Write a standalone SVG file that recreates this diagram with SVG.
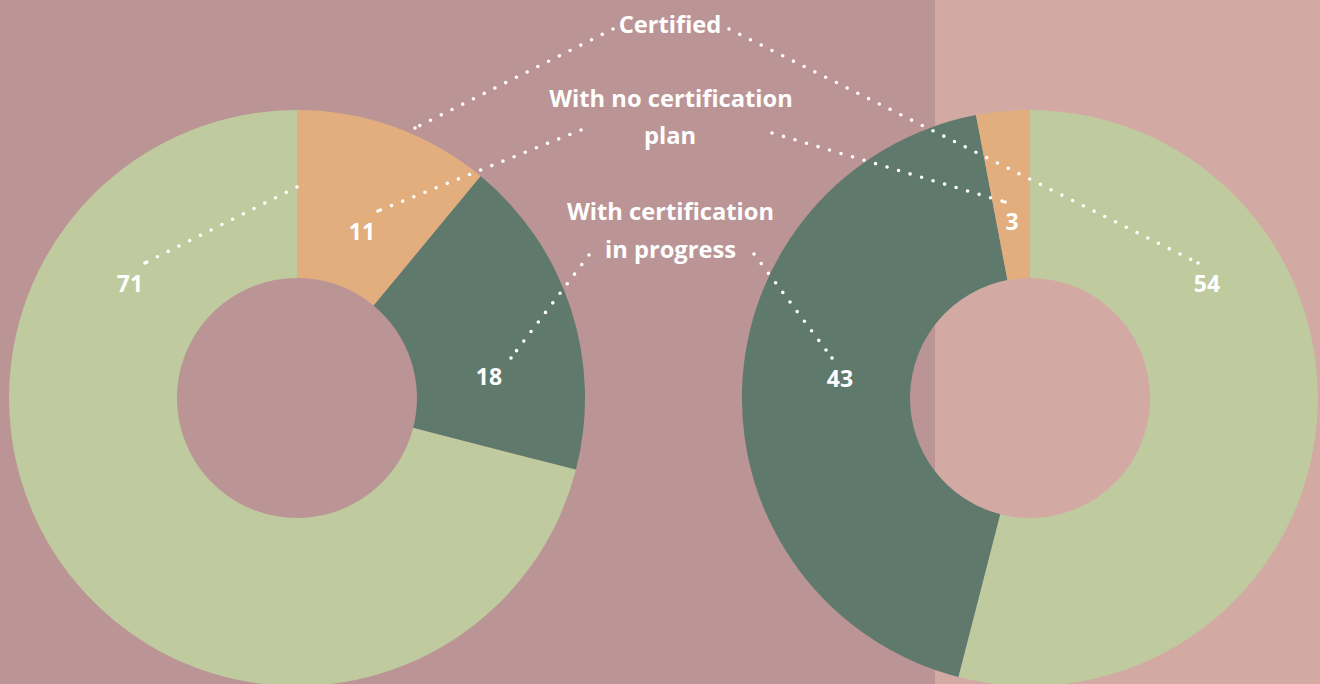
<svg xmlns="http://www.w3.org/2000/svg" width="1320" height="684" viewBox="0 0 1320 684">
<defs>
<style>
.bgL{fill:#BB9495}.bgR{fill:#D3AAA3}
.org{fill:#E2AE7D}.dg{fill:#5F7A6D}.lg{fill:#BFCA9E}
.con{fill:none;stroke:#FFFFFF;stroke-width:3.6;stroke-linecap:round;stroke-dasharray:0 12;marker-end:url(#dot)}
.lbl{font-family:"Open Sans","Noto Sans",sans-serif;font-weight:700;font-size:23.7px;fill:#FFFFFF;text-anchor:middle}
.num{font-family:"Open Sans","Noto Sans",sans-serif;font-weight:700;font-size:23px;fill:#FFFFFF;text-anchor:middle}
</style>
<marker id="dot" markerUnits="userSpaceOnUse" markerWidth="6" markerHeight="6" refX="3" refY="3" viewBox="0 0 6 6"><circle cx="3" cy="3" r="1.8" fill="#FFFFFF"/></marker>
</defs>
<g id="background">
<rect class="bgL" x="0" y="0" width="935" height="684"/>
<rect class="bgR" x="935" y="0" width="385" height="684"/>
</g>
<g id="donut-left">
<path id="left-certified" class="lg" d="M576.0,469.6 A288,288 0 1 1 297,110 L297,278 A120,120 0 1 0 413.2,427.8 Z"/>
<path id="left-in-progress" class="dg" d="M480.6,176.1 A288,288 0 0 1 576.0,469.6 L413.2,427.8 A120,120 0 0 0 373.5,305.5 Z"/>
<path id="left-no-plan" class="org" d="M297,110 A288,288 0 0 1 480.6,176.1 L373.5,305.5 A120,120 0 0 0 297,278 Z"/>
</g>
<g id="donut-right">
<path id="right-certified" class="lg" d="M1030,110 A288,288 0 1 1 958.4,677.0 L1000.2,514.2 A120,120 0 1 0 1030,278 Z"/>
<path id="right-in-progress" class="dg" d="M976.0,115.1 L1007.5,280.1 A120,120 0 0 0 1000.2,514.2 L958.4,677.0 A288,288 0 0 1 976.0,115.1 Z"/>
<path id="right-no-plan" class="org" d="M1030,110 L1030,278 A120,120 0 0 0 1007.5,280.1 L976.0,115.1 A288,288 0 0 1 1030,110 Z"/>
</g>
<g id="connectors">
<path class="con" d="M613,29 L415,128"/>
<path class="con" d="M297,187 L145,263"/>
<path class="con" d="M729,29 L1198,263"/>
<path class="con" d="M581,130 L378,211"/>
<path class="con" d="M772,133 L1005,202"/>
<path class="con" d="M589,255 L511,358"/>
<path class="con" d="M754,254 L832,358"/>
</g>
<g id="labels">
<text class="lbl" x="670" y="33">Certified</text>
<text class="lbl" x="671" y="107">With no certification</text>
<text class="lbl" x="670" y="144">plan</text>
<text class="lbl" x="670.5" y="220">With certification</text>
<text class="lbl" x="670.5" y="258">in progress</text>
</g>
<g id="values">
<text class="num" x="130" y="292">71</text>
<text class="num" x="362" y="240">11</text>
<text class="num" x="489" y="385">18</text>
<text class="num" x="840" y="387">43</text>
<text class="num" x="1012" y="230">3</text>
<text class="num" x="1207" y="292">54</text>
</g>
</svg>
